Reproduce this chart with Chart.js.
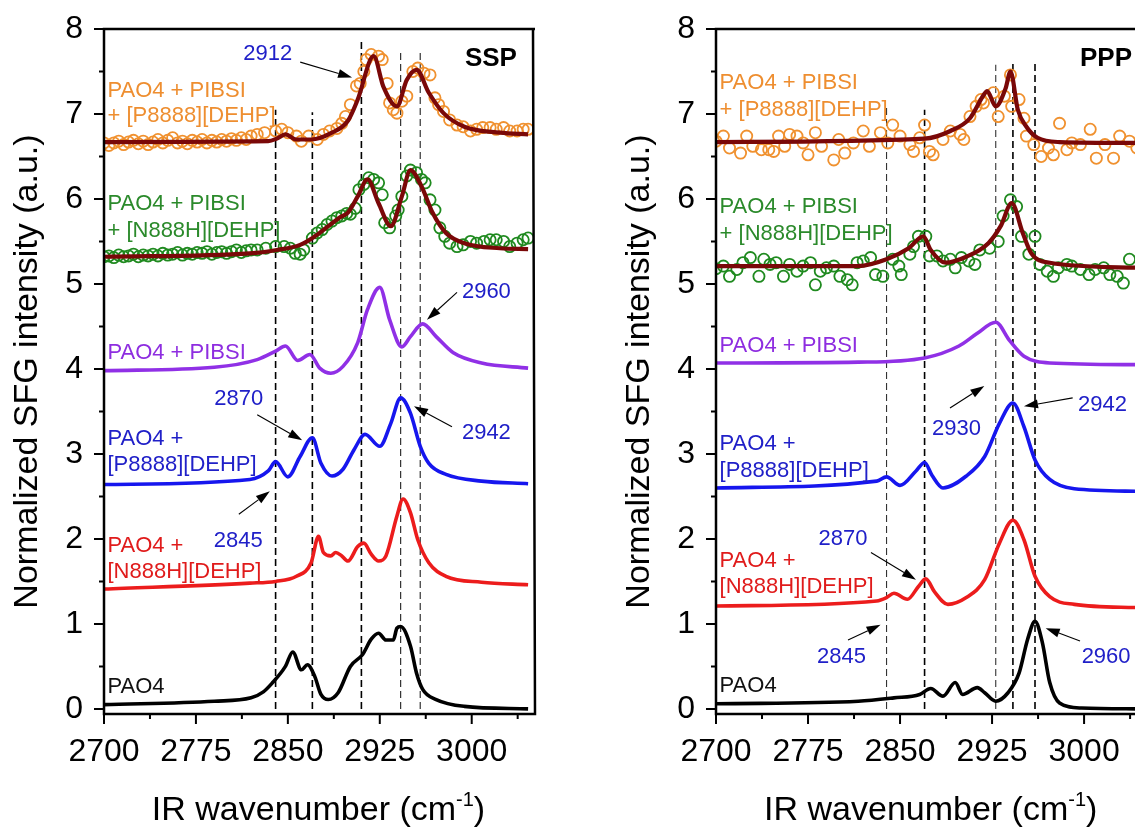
<!DOCTYPE html>
<html>
<head>
<meta charset="utf-8">
<script src="https://cdn.jsdelivr.net/npm/chart.js@4.4.1/dist/chart.umd.min.js"></script>
<style>
  html, body { margin: 0; padding: 0; background: #fff; overflow: hidden; width: 1135px; height: 828px; }
  .panel { position: absolute; top: 0; height: 828px; }
  #sspBox { left: 0; width: 560px; }
  #pppBox { left: 612px; width: 523px; }
</style>
</head>
<body>
<div class="panel" id="sspBox"><canvas id="sspChart" width="560" height="828"></canvas></div>
<div class="panel" id="pppBox"><canvas id="pppChart" width="523" height="828"></canvas></div>
<script>
// axis ticks
const xTickLabels = [2700, 2775, 2850, 2925, 3000];
const yTickLabels = [0, 1, 2, 3, 4, 5, 6, 7, 8];

// ---------- SSP panel (left) ----------
const sspPao4X = [2700, 2790, 2820, 2830, 2837, 2848, 2854, 2861, 2866, 2872, 2877, 2883, 2891, 2901, 2911, 2918, 2924, 2930, 2936, 2939, 2942, 2950, 2955, 2960, 2971, 2994, 3046];
const sspPao4Y = [0.05, 0.09, 0.13, 0.20, 0.30, 0.50, 0.67, 0.46, 0.52, 0.38, 0.17, 0.11, 0.19, 0.50, 0.64, 0.82, 0.89, 0.81, 0.81, 0.95, 0.97, 0.74, 0.42, 0.23, 0.11, 0.03, 0.00];

const sspN888X = [2700, 2819, 2840, 2857, 2869, 2875, 2879, 2885, 2889, 2894, 2899, 2907, 2912, 2918, 2924, 2930, 2939, 2944, 2950, 2956, 2965, 2979, 3008, 3046];
const sspN888Y = [1.41, 1.48, 1.50, 1.56, 1.72, 2.03, 1.84, 1.80, 1.84, 1.80, 1.74, 1.91, 1.95, 1.82, 1.74, 1.80, 2.27, 2.47, 2.31, 1.99, 1.72, 1.56, 1.49, 1.46];

const sspP8888X = [2700, 2819, 2834, 2840, 2850, 2860, 2870, 2877, 2886, 2895, 2904, 2913, 2925, 2934, 2942, 2950, 2958, 2965, 2979, 3008, 3046];
const sspP8888Y = [2.64, 2.70, 2.80, 2.91, 2.73, 2.97, 3.19, 2.89, 2.74, 2.82, 3.05, 3.23, 3.09, 3.36, 3.66, 3.48, 3.09, 2.89, 2.76, 2.68, 2.65];

const sspPibsiX = [2700, 2790, 2825, 2840, 2848, 2858, 2868, 2876, 2885, 2895, 2907, 2915, 2925, 2933, 2943, 2950, 2960, 2971, 2985, 3008, 3046];
const sspPibsiY = [3.98, 4.02, 4.11, 4.21, 4.27, 4.10, 4.17, 4.01, 3.95, 4.03, 4.31, 4.70, 4.96, 4.58, 4.26, 4.38, 4.53, 4.38, 4.19, 4.07, 4.01];

const sspMixNX = [2700, 2704, 2708, 2712, 2716, 2720, 2724, 2728, 2732, 2736, 2740, 2744, 2748, 2752, 2756, 2760, 2764, 2768, 2772, 2776, 2780, 2784, 2788, 2792, 2796, 2800, 2804, 2808, 2812, 2816,
  2820, 2825, 2832, 2840, 2847, 2852, 2856, 2860, 2863, 2870, 2874, 2878, 2882, 2886, 2890, 2894, 2898, 2901, 2905, 2908, 2912, 2916, 2920, 2924, 2927, 2929, 2933, 2938, 2940, 2943, 2947, 2950, 2955, 2959, 2962, 2966, 2970, 2974, 2978, 2982, 2988, 2993, 2999, 3004, 3010, 3015, 3020, 3026, 3031, 3037, 3042, 3046];
const sspMixNY = [5.32, 5.33, 5.31, 5.34, 5.32, 5.33, 5.35, 5.32, 5.34, 5.33, 5.35, 5.33, 5.36, 5.34, 5.35, 5.37, 5.34, 5.36, 5.35, 5.37, 5.36, 5.38, 5.35, 5.37, 5.38, 5.36, 5.38, 5.40, 5.37, 5.39,
  5.40, 5.40, 5.42, 5.44, 5.44, 5.42, 5.36, 5.35, 5.40, 5.54, 5.60, 5.64, 5.70, 5.74, 5.78, 5.80, 5.83, 5.82, 5.89, 6.11, 6.17, 6.25, 6.23, 6.19, 6.05, 5.72, 5.66, 5.80, 5.87, 6.03, 6.27, 6.34, 6.31, 6.23, 6.19, 5.99, 5.87, 5.66, 5.56, 5.48, 5.44, 5.46, 5.50, 5.48, 5.50, 5.52, 5.52, 5.50, 5.44, 5.48, 5.52, 5.54];
const sspFitNX = [2700, 2819, 2841, 2860, 2872, 2883, 2892, 2899, 2907, 2915, 2924, 2934, 2943, 2950, 2959, 2968, 2979, 2994, 3023, 3046];
const sspFitNY = [5.32, 5.36, 5.40, 5.46, 5.56, 5.68, 5.78, 5.84, 6.03, 6.23, 5.95, 5.68, 6.03, 6.34, 6.15, 5.84, 5.60, 5.48, 5.42, 5.41];

const sspMixPX = [2700, 2704, 2708, 2712, 2716, 2720, 2724, 2728, 2732, 2736, 2740, 2744, 2748, 2752, 2756, 2760, 2764, 2768, 2772, 2776, 2780, 2784, 2788, 2792, 2796, 2800, 2804, 2808, 2812, 2816,
  2820, 2825, 2831, 2840, 2845, 2850, 2857, 2861, 2867, 2874, 2879, 2884, 2890, 2894, 2897, 2901, 2906, 2909, 2912, 2914, 2918, 2924, 2927, 2931, 2933, 2936, 2939, 2943, 2947, 2952, 2956, 2961, 2966, 2970, 2973, 2977, 2982, 2988, 2993, 2999, 3004, 3009, 3015, 3020, 3026, 3031, 3037, 3042, 3046];
const sspMixPY = [6.66, 6.63, 6.66, 6.68, 6.64, 6.67, 6.69, 6.65, 6.68, 6.64, 6.67, 6.70, 6.66, 6.69, 6.72, 6.66, 6.68, 6.65, 6.69, 6.67, 6.70, 6.66, 6.69, 6.67, 6.70, 6.68, 6.71, 6.69, 6.72, 6.70,
  6.74, 6.76, 6.78, 6.80, 6.82, 6.78, 6.74, 6.68, 6.74, 6.70, 6.76, 6.80, 6.83, 6.89, 6.97, 7.11, 7.33, 7.36, 7.50, 7.64, 7.70, 7.68, 7.64, 7.36, 7.13, 7.05, 7.01, 7.15, 7.21, 7.50, 7.54, 7.48, 7.46, 7.19, 7.11, 7.03, 6.93, 6.87, 6.85, 6.80, 6.82, 6.84, 6.84, 6.82, 6.84, 6.80, 6.80, 6.82, 6.82];
const sspFitPX = [2700, 2834, 2841, 2848, 2857, 2869, 2886, 2899, 2907, 2920, 2928, 2939, 2947, 2955, 2965, 2977, 2994, 3023, 3046];
const sspFitPY = [6.67, 6.68, 6.71, 6.76, 6.70, 6.70, 6.78, 6.92, 7.17, 7.68, 7.32, 7.09, 7.40, 7.52, 7.25, 7.01, 6.85, 6.78, 6.76];

const sspGuideX = [2840, 2870, 2910, 2942, 2958];
const sspGuideTop = [7.05, 7.02, 7.87, 7.73, 7.73];

// ---------- PPP panel (right) ----------
const pppPao4X = [2700, 2816, 2845, 2866, 2875, 2885, 2895, 2901, 2913, 2919, 2928, 2938, 2947, 2954, 2960, 2966, 2972, 2980, 2998, 3046];
const pppPao4Y = [0.06, 0.09, 0.13, 0.17, 0.24, 0.15, 0.31, 0.17, 0.25, 0.19, 0.09, 0.19, 0.42, 0.82, 1.03, 0.78, 0.31, 0.07, 0.01, 0.00];

const pppN888X = [2700, 2831, 2839, 2845, 2856, 2865, 2871, 2878, 2889, 2904, 2919, 2931, 2942, 2951, 2960, 2972, 2992, 3046];
const pppN888Y = [1.21, 1.27, 1.31, 1.36, 1.29, 1.44, 1.53, 1.38, 1.23, 1.31, 1.52, 1.95, 2.22, 1.99, 1.56, 1.32, 1.23, 1.19];

const pppP8888X = [2700, 2831, 2839, 2850, 2863, 2870, 2876, 2885, 2904, 2919, 2931, 2942, 2951, 2960, 2972, 2992, 3046];
const pppP8888Y = [2.60, 2.68, 2.73, 2.63, 2.80, 2.90, 2.75, 2.60, 2.74, 2.97, 3.36, 3.60, 3.32, 2.93, 2.70, 2.59, 2.56];

const pppPibsiX = [2700, 2816, 2870, 2898, 2913, 2928, 2939, 2951, 2972, 3046];
const pppPibsiY = [4.07, 4.08, 4.13, 4.27, 4.42, 4.55, 4.34, 4.15, 4.07, 4.05];

const pppMixNX = [2700, 2706, 2711, 2717, 2722, 2728, 2735, 2739, 2744, 2749, 2755, 2760, 2766, 2771, 2777, 2781, 2785, 2790, 2796, 2801, 2807, 2811, 2815, 2820, 2826, 2830, 2836, 2844, 2849, 2851, 2858, 2861, 2865, 2871, 2874, 2880, 2885, 2891, 2895, 2900, 2906, 2911, 2915, 2923, 2930, 2934, 2940, 2945, 2949, 2955, 2960, 2964, 2970, 2975, 2979, 2986, 2990, 2997, 3004, 3009, 3016, 3021, 3027, 3032, 3037];
const pppMixNY = [5.18, 5.21, 5.09, 5.17, 5.25, 5.31, 5.09, 5.29, 5.23, 5.25, 5.09, 5.23, 5.15, 5.21, 5.25, 4.99, 5.15, 5.19, 5.21, 5.09, 5.05, 4.99, 5.25, 5.27, 5.31, 5.11, 5.09, 5.29, 5.21, 5.11, 5.35, 5.44, 5.56, 5.56, 5.33, 5.33, 5.27, 5.29, 5.19, 5.31, 5.27, 5.23, 5.40, 5.42, 5.50, 5.80, 5.99, 5.91, 5.56, 5.35, 5.56, 5.23, 5.15, 5.09, 5.19, 5.23, 5.21, 5.17, 5.11, 5.17, 5.19, 5.11, 5.09, 5.01, 5.29];
const pppFitNX = [2700, 2816, 2839, 2857, 2869, 2875, 2887, 2904, 2922, 2932, 2941, 2950, 2957, 2972, 3046];
const pppFitNY = [5.21, 5.21, 5.29, 5.42, 5.56, 5.40, 5.25, 5.32, 5.48, 5.68, 5.95, 5.60, 5.36, 5.25, 5.19];

const pppMixPX = [2700, 2706, 2711, 2720, 2725, 2730, 2737, 2743, 2747, 2751, 2756, 2760, 2766, 2771, 2775, 2781, 2786, 2796, 2800, 2805, 2812, 2820, 2825, 2834, 2840, 2844, 2850, 2858, 2861, 2866, 2870, 2874, 2877, 2885, 2891, 2899, 2902, 2907, 2912, 2916, 2918, 2926, 2930, 2935, 2940, 2941, 2947, 2951, 2953, 2959, 2965, 2971, 2975, 2980, 2986, 2990, 2997, 3005, 3010, 3017, 3024, 3029, 3037, 3043];
const pppMixPY = [6.68, 6.74, 6.60, 6.54, 6.74, 6.62, 6.58, 6.58, 6.56, 6.74, 6.62, 6.76, 6.74, 6.66, 6.52, 6.78, 6.62, 6.46, 6.70, 6.54, 6.66, 6.80, 6.62, 6.78, 6.66, 6.87, 6.74, 6.64, 6.56, 6.72, 6.87, 6.56, 6.52, 6.70, 6.80, 6.76, 6.70, 6.97, 7.09, 7.17, 7.13, 7.25, 6.97, 7.21, 7.46, 7.09, 7.17, 6.95, 6.74, 6.64, 6.50, 6.60, 6.52, 6.89, 6.58, 6.66, 6.64, 6.82, 6.48, 6.64, 6.48, 6.74, 6.68, 6.60];
const pppFitPX = [2700, 2870, 2891, 2907, 2918, 2921, 2928, 2936, 2940, 2946, 2953, 2962, 2980, 3046];
const pppFitPY = [6.67, 6.71, 6.80, 6.95, 7.22, 7.27, 7.09, 7.30, 7.50, 7.05, 6.85, 6.72, 6.67, 6.66];

const pppGuideX = [2839, 2870, 2928, 2942, 2960];
const pppGuideTop = [7.09, 7.05, 7.58, 7.60, 7.60];

// colours
const C = {
  black: '#000000', red: '#ec1c1c', blue: '#1616ee', purple: '#9030e6',
  green: '#1f8a1f', orange: '#f0912f', fit: '#7a0808',
  txtBlue: '#2020c8', txtRed: '#e01b1b', txtGreen: '#2b8a2b', txtOrange: '#ee8e30', txtPurple: '#8e2de0'
};
const FONT = '"Liberation Sans", Arial, sans-serif';
Chart.defaults.font.family = FONT;

function pts(xs, ys) {
  return xs.map((x, i) => ({ x: x, y: ys[i] }));
}

function lineSet(xs, ys, color, width) {
  return {
    data: pts(xs, ys), showLine: true, borderColor: color, borderWidth: width,
    pointRadius: 0, cubicInterpolationMode: 'monotone', fill: false, order: 1
  };
}

function circleSet(xs, ys, color) {
  return {
    data: pts(xs, ys), showLine: false, pointStyle: 'circle', pointRadius: 5.6,
    pointBorderWidth: 1.8, pointBorderColor: color, pointBackgroundColor: 'rgba(0,0,0,0)', order: 2
  };
}

function guideSets(xs, tops, widths) {
  return xs.map((x, i) => ({
    data: [{ x: x, y: 0 }, { x: x, y: tops[i] }], showLine: true, borderColor: widths[i] > 1.3 ? '#000' : '#333',
    borderWidth: widths[i], borderDash: [7, 4], pointRadius: 0, order: 3
  }));
}

function arrow(ctx, x1, y1, x2, y2) {
  const ang = Math.atan2(y2 - y1, x2 - x1);
  const hl = 14, hw = 4.5;
  const bx = x2 - hl * Math.cos(ang), by = y2 - hl * Math.sin(ang);
  ctx.strokeStyle = '#000';
  ctx.lineWidth = 1.1;
  ctx.beginPath();
  ctx.moveTo(x1, y1);
  ctx.lineTo(bx, by);
  ctx.stroke();
  ctx.fillStyle = '#000';
  ctx.beginPath();
  ctx.moveTo(x2, y2);
  ctx.lineTo(bx + hw * Math.sin(ang), by - hw * Math.cos(ang));
  ctx.lineTo(bx - hw * Math.sin(ang), by + hw * Math.cos(ang));
  ctx.closePath();
  ctx.fill();
}

// frame, tick marks, text labels, arrows and the x title
const panelDecor = {
  id: 'panelDecor',
  afterDatasetsDraw(chart, args, opts) {
    const { ctx, chartArea: a, scales: { x, y } } = chart;
    ctx.save();
    ctx.strokeStyle = '#000';
    ctx.lineWidth = 2.5;
    ctx.beginPath();
    ctx.moveTo(a.right + 2, a.top);
    ctx.lineTo(a.left, a.top);
    ctx.lineTo(a.left, a.bottom);
    ctx.lineTo(a.right + 2, a.bottom);
    if (opts.rightEdge) ctx.lineTo(a.right, a.top);
    ctx.stroke();

    // tick marks (outward)
    ctx.lineWidth = 2;
    ctx.beginPath();
    xTickLabels.forEach(v => {
      const px = x.getPixelForValue(v);
      ctx.moveTo(px, a.bottom); ctx.lineTo(px, a.bottom + 10);
      const pm = x.getPixelForValue(v + 37.5);
      if (pm < a.right) { ctx.moveTo(pm, a.bottom); ctx.lineTo(pm, a.bottom + 5); }
    });
    yTickLabels.forEach(v => {
      const py = y.getPixelForValue(v);
      ctx.moveTo(a.left, py); ctx.lineTo(a.left - 10, py);
      if (v < 8) {
        const pm = y.getPixelForValue(v + 0.5);
        ctx.moveTo(a.left, pm); ctx.lineTo(a.left - 5, pm);
      }
    });
    ctx.stroke();

    // labels
    ctx.textBaseline = 'alphabetic';
    opts.notes.forEach(n => {
      ctx.font = (n.bold ? 'bold ' : '') + (n.size || 22) + 'px ' + FONT;
      ctx.fillStyle = n.color;
      ctx.textAlign = n.align || 'left';
      const px = x.getPixelForValue(n.x);
      const py = y.getPixelForValue(n.y);
      n.lines.forEach((t, i) => ctx.fillText(t, px, py + i * (n.gap || 26)));
    });
    opts.arrows.forEach(r => {
      arrow(ctx, x.getPixelForValue(r[0]), y.getPixelForValue(r[1]), x.getPixelForValue(r[2]), y.getPixelForValue(r[3]));
    });

    // x title with superscript, centred on the full 2700-3050 span
    const cx = (x.getPixelForValue(2700) + x.getPixelForValue(3050)) / 2, base = a.bottom + 106;
    const main = 'IR wavenumber (cm', sup = '-1', end = ')';
    ctx.fillStyle = '#000';
    ctx.textAlign = 'left';
    ctx.font = '34px ' + FONT;
    const w1 = ctx.measureText(main).width, w3 = ctx.measureText(end).width;
    ctx.font = '20px ' + FONT;
    const w2 = ctx.measureText(sup).width;
    const x0 = cx - (w1 + w2 + w3) / 2;
    ctx.font = '34px ' + FONT;
    ctx.fillText(main, x0, base);
    ctx.fillText(end, x0 + w1 + w2, base);
    ctx.font = '20px ' + FONT;
    ctx.fillText(sup, x0 + w1, base - 14);
    ctx.restore();
  }
};

function makePanel(canvasId, xMax, padRight, rightEdge, datasets, notes, arrows) {
  return new Chart(document.getElementById(canvasId), {
    type: 'scatter',
    data: { datasets: datasets },
    options: {
      responsive: false,
      animation: false,
      events: [],
      layout: { autoPadding: false, padding: { left: 0, top: 29, right: padRight, bottom: 0 } },
      plugins: { legend: { display: false }, tooltip: { enabled: false }, panelDecor: { notes: notes, arrows: arrows, rightEdge: rightEdge } },
      scales: {
        x: {
          type: 'linear', min: 2700, max: xMax,
          grid: { display: false, drawTicks: false }, border: { display: false },
          afterBuildTicks: s => { s.ticks = xTickLabels.map(v => ({ value: v })); },
          afterFit: s => { s.height = 114; s.paddingLeft = 0; s.paddingRight = 0; },
          ticks: { color: '#000', font: { size: 32 }, padding: 19, maxRotation: 0, autoSkip: false, callback: v => String(v) }
        },
        y: {
          type: 'linear', min: -0.06, max: 8,
          grid: { display: false, drawTicks: false }, border: { display: false },
          afterBuildTicks: s => { s.ticks = yTickLabels.map(v => ({ value: v })); },
          afterFit: s => { s.width = 104; s.paddingTop = 0; s.paddingBottom = 0; },
          ticks: { color: '#000', font: { size: 32 }, padding: 21, autoSkip: false, callback: v => String(v) },
          title: { display: true, text: 'Normalized SFG intensity (a.u.)', color: '#000', font: { size: 34 }, padding: { top: 7, bottom: 0 } }
        }
      }
    },
    plugins: [panelDecor]
  });
}

// SSP
makePanel('sspChart', 3050, 27, true, [
  lineSet(sspFitPX, sspFitPY, C.fit, 4.2),
  lineSet(sspFitNX, sspFitNY, C.fit, 4.2),
  circleSet(sspMixPX, sspMixPY, C.orange),
  circleSet(sspMixNX, sspMixNY, C.green),
  lineSet(sspPibsiX, sspPibsiY, C.purple, 3.6),
  lineSet(sspP8888X, sspP8888Y, C.blue, 3.6),
  lineSet(sspN888X, sspN888Y, C.red, 3.6),
  lineSet(sspPao4X, sspPao4Y, C.black, 3.6)
].concat(guideSets(sspGuideX, sspGuideTop, [1.6, 1.6, 1.6, 1.2, 1.2])), [
  { x: 2702.8, y: 7.20, lines: ['PAO4 + PIBSI', '+ [P8888][DEHP]'], color: C.txtOrange, gap: 25 },
  { x: 2702.8, y: 5.87, lines: ['PAO4 + PIBSI', '+ [N888H][DEHP]'], color: C.txtGreen, gap: 27 },
  { x: 2702.8, y: 4.12, lines: ['PAO4 + PIBSI'], color: C.txtPurple },
  { x: 2702.8, y: 3.11, lines: ['PAO4 +', '[P8888][DEHP]'], color: C.txtBlue, gap: 26 },
  { x: 2702.8, y: 1.85, lines: ['PAO4 +', '[N888H][DEHP]'], color: C.txtRed, gap: 26 },
  { x: 2702.8, y: 0.19, lines: ['PAO4'], color: '#111' },
  { x: 2813.7, y: 7.64, lines: ['2912'], color: C.txtBlue },
  { x: 2992, y: 4.84, lines: ['2960'], color: C.txtBlue },
  { x: 2790, y: 3.58, lines: ['2870'], color: C.txtBlue },
  { x: 2992, y: 3.18, lines: ['2942'], color: C.txtBlue },
  { x: 2789.6, y: 1.91, lines: ['2845'], color: C.txtBlue },
  { x: 3036.9, y: 7.56, lines: ['SSP'], color: '#000', bold: true, size: 26, align: 'right' }
], [
  [2860.1, 7.61, 2902.4, 7.43],
  [2988, 4.90, 2963.5, 4.58],
  [2825, 3.46, 2861.7, 3.16],
  [2983.9, 3.32, 2952.9, 3.56],
  [2810, 2.29, 2835.3, 2.56]
]);

// PPP: same scale as SSP, but the page cuts the panel at the window edge
makePanel('pppChart', 3041.5, 0, false, [
  lineSet(pppFitPX, pppFitPY, C.fit, 4.2),
  lineSet(pppFitNX, pppFitNY, C.fit, 4.2),
  circleSet(pppMixPX, pppMixPY, C.orange),
  circleSet(pppMixNX, pppMixNY, C.green),
  lineSet(pppPibsiX, pppPibsiY, C.purple, 3.6),
  lineSet(pppP8888X, pppP8888Y, C.blue, 3.6),
  lineSet(pppN888X, pppN888Y, C.red, 3.6),
  lineSet(pppPao4X, pppPao4Y, C.black, 3.6)
].concat(guideSets(pppGuideX, pppGuideTop, [1.1, 1.6, 1.1, 1.6, 1.6])), [
  { x: 2702.9, y: 7.29, lines: ['PAO4 + PIBSI', '+ [P8888][DEHP]'], color: C.txtOrange, gap: 27 },
  { x: 2702.9, y: 5.84, lines: ['PAO4 + PIBSI', '+ [N888H][DEHP]'], color: C.txtGreen, gap: 27 },
  { x: 2702.9, y: 4.20, lines: ['PAO4 + PIBSI'], color: C.txtPurple },
  { x: 2702.9, y: 3.05, lines: ['PAO4 +', '[P8888][DEHP]'], color: C.txtBlue, gap: 27 },
  { x: 2702.9, y: 1.67, lines: ['PAO4 +', '[N888H][DEHP]'], color: C.txtRed, gap: 26 },
  { x: 2702.9, y: 0.20, lines: ['PAO4'], color: '#111' },
  { x: 2876, y: 3.22, lines: ['2930'], color: C.txtBlue },
  { x: 2995, y: 3.50, lines: ['2942'], color: C.txtBlue },
  { x: 2783.6, y: 1.93, lines: ['2870'], color: C.txtBlue },
  { x: 2782.3, y: 0.54, lines: ['2845'], color: C.txtBlue },
  { x: 2998, y: 0.54, lines: ['2960'], color: C.txtBlue },
  { x: 2996.7, y: 7.56, lines: ['PPP'], color: '#000', bold: true, size: 26 }
], [
  [2890.7, 3.54, 2918.7, 3.80],
  [2990.7, 3.66, 2951, 3.56],
  [2826.3, 1.84, 2863, 1.52],
  [2807.6, 0.81, 2834.1, 0.99],
  [2996.7, 0.80, 2968.7, 0.95]
]);
</script>
</body>
</html>
